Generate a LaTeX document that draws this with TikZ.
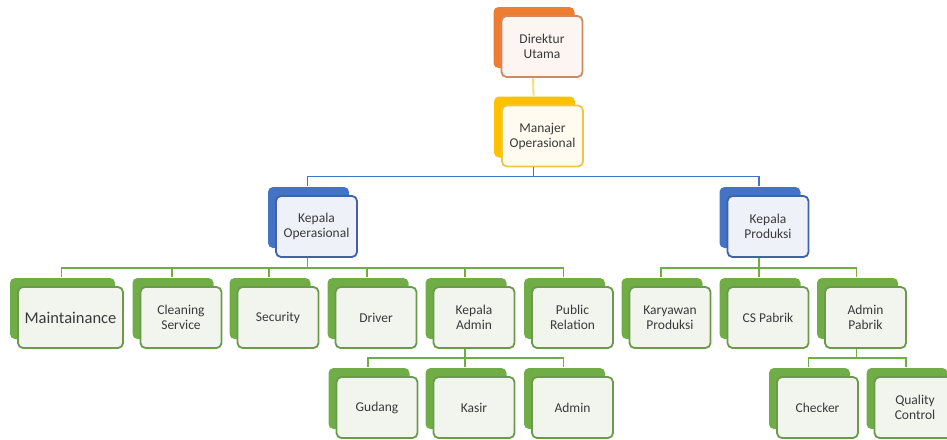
\documentclass[tikz,border=0pt]{standalone}
\usepackage{fontspec}
\setmainfont{Carlito}
\usetikzlibrary{shadows}
\definecolor{orB}{HTML}{ED7D31}
\definecolor{orD}{HTML}{D08A62}
\definecolor{orF}{HTML}{FCF5F1}
\definecolor{yeB}{HTML}{FFC000}
\definecolor{yeD}{HTML}{E9C84A}
\definecolor{yeF}{HTML}{FFFBF0}
\definecolor{yeL}{HTML}{FFD966}
\definecolor{blB}{HTML}{4472C4}
\definecolor{blD}{HTML}{3F63A6}
\definecolor{blF}{HTML}{EEF1F8}
\definecolor{grB}{HTML}{70AD47}
\definecolor{grD}{HTML}{6A9A4A}
\definecolor{grF}{HTML}{F1F5EE}
\definecolor{txt}{HTML}{3A3A3A}
\tikzset{
  card/.style={draw=#1D, fill=#1F, line width=1.8pt, rounded corners=5pt,
    minimum width=81pt, minimum height=61pt, align=center, text=txt,
    inner sep=2pt, font=\fontsize{13.5}{15}\selectfont,
    copy shadow={shadow xshift=-8pt, shadow yshift=9pt, fill=#1B, draw=none, opacity=1}},
  conn/.style={line width=1.8pt, draw=#1}
}
\begin{document}
\begin{tikzpicture}[x=1pt,y=-1pt]
\clip (0,0) rectangle (947,439);
\fill[white] (0,0) rectangle (947,439);
% level 0-1
\node[card=or] (du) at (542,46.5) {Direktur\\Utama};
\node[card=ye] (mo) at (542.5,136) {Manajer\\Operasional};
% level 2
\node[card=bl] (ko) at (316.5,226.5) {Kepala\\Operasional};
\node[card=bl] (kp) at (768,226.5) {Kepala\\Produksi};
% level 3
\node[card=gr, minimum width=105pt, font=\fontsize{16.5}{18}\selectfont] (mt) at (70.5,317.5) {Maintainance};
\node[card=gr] (cs) at (181,317.5) {Cleaning\\Service};
\node[card=gr] (se) at (278,317.5) {Security};
\node[card=gr] (dr) at (376,317.5) {Driver};
\node[card=gr] (ka) at (474,317.5) {Kepala\\Admin};
\node[card=gr] (pr) at (572.5,317.5) {Public\\Relation};
\node[card=gr] (kw) at (670,317.5) {Karyawan\\Produksi};
\node[card=gr] (cp) at (768,317.5) {CS Pabrik};
\node[card=gr] (ap) at (865.5,317.5) {Admin\\Pabrik};
% level 4
\node[card=gr] (gu) at (377,407.5) {Gudang};
\node[card=gr] (ks) at (474,407.5) {Kasir};
\node[card=gr] (ad) at (572.5,407.5) {Admin};
\node[card=gr] (ch) at (817.5,407.5) {Checker};
\node[card=gr] (qc) at (915,407.5) {Quality\\Control};
% connectors
\draw[conn=yeL] ([xshift=-9pt]du.south) -- ([xshift=-9pt,yshift=9pt]mo.north);
\foreach \c in {ko,kp}
  \draw[conn=blB] ([xshift=-9pt]mo.south) -- ++(0,9) -| ([xshift=-9pt,yshift=9pt]\c.north);
\foreach \c in {mt,cs,se,dr,ka,pr}
  \draw[conn=grB] ([xshift=-9pt]ko.south) -- ++(0,10) -| ([xshift=-9pt,yshift=9pt]\c.north);
\foreach \c in {kw,cp,ap}
  \draw[conn=grB] ([xshift=-9pt]kp.south) -- ++(0,10) -| ([xshift=-9pt,yshift=9pt]\c.north);
\foreach \c in {gu,ks,ad}
  \draw[conn=grB] ([xshift=-9pt]ka.south) -- ++(0,9) -| ([xshift=-9pt,yshift=9pt]\c.north);
\foreach \c in {ch,qc}
  \draw[conn=grB] ([xshift=-9pt]ap.south) -- ++(0,9) -| ([xshift=-9pt,yshift=9pt]\c.north);
\end{tikzpicture}
\end{document}
